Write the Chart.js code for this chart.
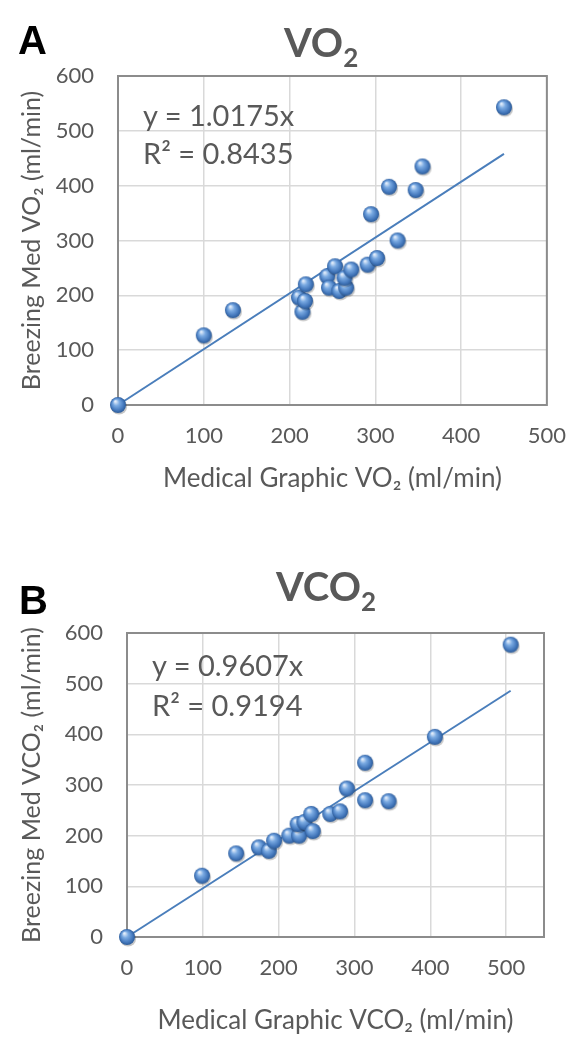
<!DOCTYPE html>
<html lang="en">
<head>
    <meta charset="UTF-8">
    <title>VO2 / VCO2 agreement</title>
    <script src="https://cdn.jsdelivr.net/npm/chart.js"></script>
    <style>
        body {
            margin: 0;
            background: #ffffff;
            font-family: 'Lato', sans-serif;
        }
        .page {
            position: relative;
            width: 584px;
            height: 1050px;
            overflow: hidden;
        }
        canvas {
            position: absolute;
            left: 0;
        }
        .label {
            position: absolute;
            white-space: nowrap;
        }
        .letter {
            font-family: 'Liberation Sans', Arial, sans-serif;
            font-weight: bold;
            font-size: 40px;
            color: #000;
            line-height: 1;
        }
        .title {
            font-weight: bold;
            font-size: 40px;
            color: #595959;
            line-height: 1;
        }
        .title sub {
            font-size: 26px;
            vertical-align: -10px;
        }
        .eq {
            font-size: 29px;
            color: #595959;
            line-height: 1;
        }
    </style>
</head>
<body>
<div class="page">
    <canvas id="chartA" width="584" height="500" style="top:0"></canvas>
    <canvas id="chartB" width="584" height="530" style="top:520px"></canvas>

    <div class="label letter" style="left:18px; top:20px">A</div>
    <div class="label title" style="left:284px; top:22px">VO<sub>2</sub></div>
    <div class="label eq" style="left:143px; top:100px">y = 1.0175x</div>
    <div class="label eq" style="left:143px; top:138px">R² = 0.8435</div>

    <div class="label letter" style="left:19px; top:580px">B</div>
    <div class="label title" style="left:276px; top:566px">VCO<sub>2</sub></div>
    <div class="label eq" style="left:152px; top:650px">y = 0.9607x</div>
    <div class="label eq" style="left:152px; top:690px">R² = 0.9194</div>
</div>

<script>
    // Panel A: VO2 (ml/min)
    const vo2Medical  = [0, 100, 134, 215, 211, 218, 219, 244, 253, 246, 258, 266, 264, 272, 291, 302, 326, 295, 316, 347, 355, 450];
    const vo2Breezing = [0, 127, 173, 170, 196, 190, 220, 235, 253, 214, 208, 214, 232, 247, 256, 268, 300, 348, 398, 392, 435, 543];
    const vo2TrendX = [0, 450];
    const vo2TrendY = [0, 458];

    // Panel B: VCO2 (ml/min)
    const vco2Medical  = [0, 99, 144, 174, 187, 194, 214, 227, 225, 234, 243, 245, 268, 281, 290, 314, 314, 345, 406, 506];
    const vco2Breezing = [0, 121, 165, 177, 170, 190, 200, 200, 223, 227, 243, 209, 243, 248, 293, 344, 270, 268, 395, 577];
    const vco2TrendX = [0, 506];
    const vco2TrendY = [0, 486];

    const textColor = '#595959';
    const gridColor = '#d9d9d9';

    // excel-ish shaded sphere used as the marker
    function makeSphere() {
        const c = document.createElement('canvas');
        c.width = 22;
        c.height = 22;
        const g = c.getContext('2d');
        // soft shadow
        g.fillStyle = 'rgba(0,0,0,0.22)';
        g.beginPath();
        g.arc(12, 12.5, 8.1, 0, Math.PI * 2);
        g.fill();
        const grad = g.createRadialGradient(8.3, 7.3, 0.5, 11, 11, 8.2);
        grad.addColorStop(0, '#e4eefb');
        grad.addColorStop(0.35, '#7aaae2');
        grad.addColorStop(0.75, '#4579bd');
        grad.addColorStop(1, '#2b5995');
        g.fillStyle = grad;
        g.beginPath();
        g.arc(11, 11, 8, 0, Math.PI * 2);
        g.fill();
        return c;
    }
    const sphere = makeSphere();

    const frame = {
        id: 'frame',
        beforeDatasetsDraw(chart) {
            const a = chart.chartArea;
            const ctx = chart.ctx;
            ctx.save();
            ctx.strokeStyle = '#8c8c8c';
            ctx.lineWidth = 2;
            ctx.strokeRect(a.left, a.top, a.right - a.left, a.bottom - a.top);
            ctx.restore();
        }
    };

    function toPoints(xs, ys) {
        return xs.map((x, i) => ({ x: x, y: ys[i] }));
    }

    function makeChart(id, cfg) {
        return new Chart(document.getElementById(id), {
            type: 'scatter',
            data: {
                datasets: [{
                    data: toPoints(cfg.xs, cfg.ys),
                    pointStyle: sphere,
                    clip: false,
                    order: 1
                }, {
                    type: 'line',
                    data: toPoints(cfg.tx, cfg.ty),
                    borderColor: '#4a7ebb',
                    borderWidth: 2,
                    pointRadius: 0,
                    fill: false,
                    clip: false,
                    order: 2
                }]
            },
            options: {
                responsive: false,
                animation: false,
                layout: { padding: { top: cfg.top, right: cfg.right, left: 0, bottom: 0 } },
                plugins: {
                    legend: { display: false },
                    tooltip: { enabled: false }
                },
                scales: {
                    x: {
                        type: 'linear',
                        min: 0,
                        max: cfg.xMax,
                        afterFit: (s) => { s.height = cfg.xHeight; },
                        ticks: {
                            stepSize: 100,
                            includeBounds: false,
                            padding: 18,
                            color: textColor,
                            font: { family: 'Lato', size: 22 }
                        },
                        grid: { color: gridColor, lineWidth: 1.5, drawTicks: false },
                        border: { display: false },
                        title: {
                            display: true,
                            text: cfg.xTitle,
                            color: textColor,
                            font: { family: 'Lato', size: 26 },
                            padding: { top: 0, bottom: cfg.xTitlePad }
                        }
                    },
                    y: {
                        min: 0,
                        max: 600,
                        afterFit: (s) => { s.width = cfg.left; },
                        ticks: {
                            stepSize: 100,
                            padding: 24,
                            color: textColor,
                            font: { family: 'Lato', size: 22 }
                        },
                        grid: { color: gridColor, lineWidth: 1.5, drawTicks: false },
                        border: { display: false },
                        title: {
                            display: true,
                            text: cfg.yTitle,
                            color: textColor,
                            font: { family: 'Lato', size: 25 },
                            padding: { top: 17, bottom: 0 }
                        }
                    }
                }
            },
            plugins: [frame]
        });
    }

    makeChart('chartA', {
        xs: vo2Medical, ys: vo2Breezing, tx: vo2TrendX, ty: vo2TrendY,
        xMax: 500, top: 76, right: 29, left: 118, xHeight: 95, xTitlePad: 6,
        xTitle: 'Medical Graphic VO₂ (ml/min)',
        yTitle: 'Breezing Med VO₂ (ml/min)'
    });

    makeChart('chartB', {
        xs: vco2Medical, ys: vco2Breezing, tx: vco2TrendX, ty: vco2TrendY,
        xMax: 550, top: 113, right: 40, left: 127, xHeight: 113, xTitlePad: 14,
        xTitle: 'Medical Graphic VCO₂ (ml/min)',
        yTitle: 'Breezing Med VCO₂ (ml/min)'
    });
</script>
</body>
</html>
